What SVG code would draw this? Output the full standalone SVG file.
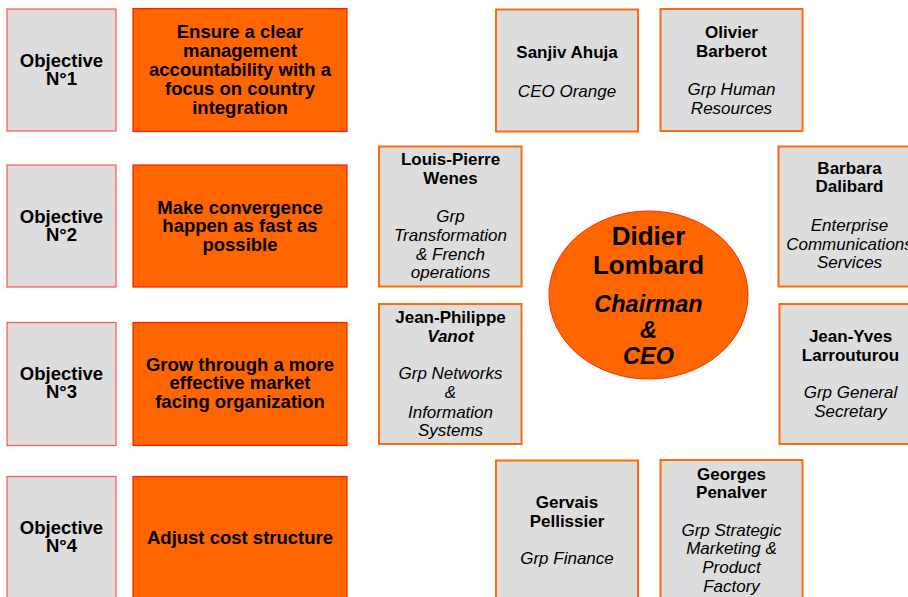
<svg xmlns="http://www.w3.org/2000/svg" width="908" height="597" viewBox="0 0 908 597">
<style>
text{font-family:"Liberation Sans",Arial,sans-serif;fill:#000;text-anchor:middle}
.obj{fill:#dddddd;stroke:#ff5555;stroke-width:1.2}
.goal{fill:#ff6600;stroke:#ff1a00;stroke-width:1.2}
.box{fill:#dddddd;stroke:#ff6a10;stroke-width:2}
.ot{font-size:18.5px;font-weight:bold}
.nm{font-size:17px;font-weight:bold}
.rl{font-size:17px;font-style:italic}
.bi{font-weight:bold;font-style:italic}
</style>
<rect width="908" height="597" fill="#ffffff"/>
<g id="objective1">
<rect class="obj" x="7" y="9" width="109" height="122"/>
<text class="ot" x="61.5" y="66.5">Objective</text>
<text class="ot" x="61.5" y="84.5">N°1</text>
</g>
<g id="goal1">
<rect class="goal" x="133" y="8.5" width="214" height="123"/>
<text class="ot" x="240" y="37.7">Ensure a clear</text>
<text class="ot" x="240" y="56.7">management</text>
<text class="ot" x="240" y="75.7">accountability with a</text>
<text class="ot" x="240" y="94.7">focus on country</text>
<text class="ot" x="240" y="113.7">integration</text>
</g>
<g id="objective2">
<rect class="obj" x="7" y="165" width="109" height="122"/>
<text class="ot" x="61.5" y="222.5">Objective</text>
<text class="ot" x="61.5" y="240.5">N°2</text>
</g>
<g id="goal2">
<rect class="goal" x="133" y="165" width="214" height="122"/>
<text class="ot" x="240" y="213.5">Make convergence</text>
<text class="ot" x="240" y="232.3">happen as fast as</text>
<text class="ot" x="240" y="251.2">possible</text>
</g>
<g id="objective3">
<rect class="obj" x="7" y="322.5" width="109" height="123"/>
<text class="ot" x="61.5" y="380.3">Objective</text>
<text class="ot" x="61.5" y="398.3">N°3</text>
</g>
<g id="goal3">
<rect class="goal" x="133" y="322.5" width="214" height="123"/>
<text class="ot" x="240" y="370.7">Grow through a more</text>
<text class="ot" x="240" y="389.3">effective market</text>
<text class="ot" x="240" y="408.3">facing organization</text>
</g>
<g id="objective4">
<rect class="obj" x="7" y="476.5" width="109" height="140"/>
<text class="ot" x="61.5" y="534">Objective</text>
<text class="ot" x="61.5" y="552">N°4</text>
</g>
<g id="goal4">
<rect class="goal" x="133" y="476.5" width="214" height="140"/>
<text class="ot" x="240" y="544.3">Adjust cost structure</text>
</g>
<g id="sanjiv">
<rect class="box" x="496" y="9.5" width="142" height="122"/>
<text class="nm" x="567" y="58.3">Sanjiv Ahuja</text>
<text class="rl" x="567" y="96.7">CEO Orange</text>
</g>
<g id="olivier">
<rect class="box" x="660.5" y="9" width="142" height="122"/>
<text class="nm" x="731.5" y="38.3">Olivier</text>
<text class="nm" x="731.5" y="57.3">Barberot</text>
<text class="rl" x="731.5" y="95">Grp Human</text>
<text class="rl" x="731.5" y="113.5">Resources</text>
</g>
<g id="louis-pierre">
<rect class="box" x="379" y="146.5" width="142.5" height="140"/>
<text class="nm" x="450.5" y="165">Louis-Pierre</text>
<text class="nm" x="450.5" y="184">Wenes</text>
<text class="rl" x="450.5" y="221.7">Grp</text>
<text class="rl" x="450.5" y="240.7">Transformation</text>
<text class="rl" x="450.5" y="259.5">&amp; French</text>
<text class="rl" x="450.5" y="278.3">operations</text>
</g>
<g id="barbara">
<rect class="box" x="778.5" y="146.5" width="142" height="140"/>
<text class="nm" x="849.5" y="174.3">Barbara</text>
<text class="nm" x="849.5" y="192.3">Dalibard</text>
<text class="rl" x="849.5" y="230.7">Enterprise</text>
<text class="rl" x="849.5" y="249.5">Communications</text>
<text class="rl" x="849.5" y="268.3">Services</text>
</g>
<g id="jean-yves">
<rect class="box" x="779.5" y="304" width="142" height="140"/>
<text class="nm" x="850.5" y="341.7">Jean-Yves</text>
<text class="nm" x="850.5" y="360.7">Larrouturou</text>
<text class="rl" x="850.5" y="398.3">Grp General</text>
<text class="rl" x="850.5" y="416.7">Secretary</text>
</g>
<g id="jean-philippe">
<rect class="box" x="379" y="304" width="142.5" height="140"/>
<text class="nm" x="450.5" y="323.3">Jean-Philippe</text>
<text class="nm bi" x="450.5" y="341.7">Vanot</text>
<text class="rl" x="450.5" y="379.3">Grp Networks</text>
<text class="rl" x="450.5" y="398.3">&amp;</text>
<text class="rl" x="450.5" y="417.5">Information</text>
<text class="rl" x="450.5" y="436">Systems</text>
</g>
<g id="gervais">
<rect class="box" x="496" y="460.5" width="142" height="160"/>
<text class="nm" x="567" y="507.7">Gervais</text>
<text class="nm" x="567" y="526.7">Pellissier</text>
<text class="rl" x="567" y="563.5">Grp Finance</text>
</g>
<g id="georges">
<rect class="box" x="660.5" y="460" width="142" height="160"/>
<text class="nm" x="731.5" y="480">Georges</text>
<text class="nm" x="731.5" y="497.5">Penalver</text>
<text class="rl" x="731.5" y="535.7">Grp Strategic</text>
<text class="rl" x="731.5" y="554.3">Marketing &amp;</text>
<text class="rl" x="731.5" y="573.3">Product</text>
<text class="rl" x="731.5" y="591.7">Factory</text>
</g>
<g id="ceo">
<ellipse cx="648.5" cy="295" rx="99.5" ry="84" fill="#ff6600" stroke="#ff2a00" stroke-width="1"/>
<text x="648.5" y="244.5" font-size="26" font-weight="bold">Didier</text>
<text x="648.5" y="273.5" font-size="26" font-weight="bold">Lombard</text>
<text x="648.5" y="312" font-size="23.5" class="bi">Chairman</text>
<text x="648.5" y="338" font-size="23.5" class="bi">&amp;</text>
<text x="648.5" y="363.5" font-size="23.5" class="bi">CEO</text>
</g>
<g id="connectors"></g>
</svg>
